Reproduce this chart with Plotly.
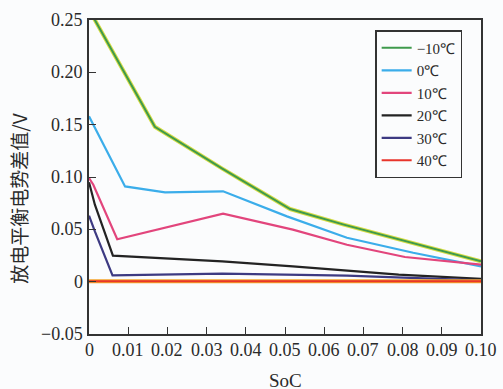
import plotly.graph_objects as go

# SoC sample points and potential differences (V) for each temperature
soc_m10 = [0.0, 0.0168, 0.0340, 0.0513, 0.0650, 0.0793, 0.1000]
v_m10 = [0.260, 0.148, 0.108, 0.0694, 0.0545, 0.0401, 0.0194]

soc_0 = [0.0, 0.0092, 0.0194, 0.0342, 0.0505, 0.0658, 0.0827, 0.1000]
v_0 = [0.158, 0.091, 0.0853, 0.0863, 0.0624, 0.0420, 0.0276, 0.0146]

soc_10 = [0.0, 0.0011, 0.0072, 0.0342, 0.0520, 0.0658, 0.0806, 0.1000]
v_10 = [0.099, 0.0926, 0.0405, 0.0650, 0.0497, 0.0353, 0.0236, 0.0162]

soc_20 = [0.0, 0.0015, 0.0061, 0.0340, 0.0520, 0.0790, 0.1000]
v_20 = [0.095, 0.0735, 0.0248, 0.0194, 0.0146, 0.0067, 0.0026]

soc_30 = [0.0, 0.0015, 0.0060, 0.0340, 0.0658, 0.1000]
v_30 = [0.063, 0.048, 0.0060, 0.0076, 0.0057, 0.0013]

soc_40 = [0.0, 0.1000]
v_40 = [0.0005, 0.0005]

labels = ["\u221210\u2103", "0\u2103", "10\u2103", "20\u2103", "30\u2103", "40\u2103"]

x_ticks = [0, 0.01, 0.02, 0.03, 0.04, 0.05, 0.06, 0.07, 0.08, 0.09, 0.10]
x_tick_text = ["0", "0.01", "0.02", "0.03", "0.04", "0.05", "0.06", "0.07", "0.08", "0.09", "0.10"]
y_ticks = [-0.05, 0, 0.05, 0.10, 0.15, 0.20, 0.25]
y_tick_text = ["\u22120.05", "0", "0.05", "0.10", "0.15", "0.20", "0.25"]

serif = "Liberation Serif"
ink = "#2a2a2a"

fig = go.Figure()

# two-tone lines: a wide under-stroke with a narrower stroke on top
fig.add_trace(go.Scatter(x=soc_m10, y=v_m10, mode="lines", showlegend=False,
                         line=dict(color="#d6dc45", width=4), hoverinfo="skip"))
fig.add_trace(go.Scatter(x=soc_m10, y=v_m10, mode="lines", name=labels[0],
                         line=dict(color="#3f9a4c", width=2)))
fig.add_trace(go.Scatter(x=soc_0, y=v_0, mode="lines", name=labels[1],
                         line=dict(color="#3badea", width=2.2)))
fig.add_trace(go.Scatter(x=soc_10, y=v_10, mode="lines", name=labels[2],
                         line=dict(color="#e2457c", width=2.2)))
fig.add_trace(go.Scatter(x=soc_20, y=v_20, mode="lines", name=labels[3],
                         line=dict(color="#232323", width=2.2)))
fig.add_trace(go.Scatter(x=soc_30, y=v_30, mode="lines", name=labels[4],
                         line=dict(color="#3d3a82", width=2.2)))
fig.add_trace(go.Scatter(x=soc_40, y=v_40, mode="lines", showlegend=False,
                         line=dict(color="#f4a52a", width=4), hoverinfo="skip"))
fig.add_trace(go.Scatter(x=soc_40, y=v_40, mode="lines", name=labels[5],
                         line=dict(color="#e8352b", width=2)))

axis_common = dict(
    showgrid=False, zeroline=False, showline=True, mirror=True,
    linecolor="#333333", linewidth=1.5,
    ticks="inside", ticklen=7, tickwidth=1.3, tickcolor="#333333",
    showticklabels=False,
)

fig.update_xaxes(range=[0, 0.10], tickmode="array", tickvals=x_ticks, **axis_common)
fig.update_yaxes(range=[-0.05, 0.25], tickmode="array", tickvals=y_ticks, **axis_common)

# serif tick labels, written at the axis tick positions
tick_font = dict(family=serif, size=18, color=ink)
for xv, txt in zip(x_ticks, x_tick_text):
    fig.add_annotation(text=txt, x=xv, y=0, xref="x", yref="paper",
                       xanchor="center", yanchor="top", yshift=-4,
                       showarrow=False, font=tick_font)
for yv, txt in zip(y_ticks, y_tick_text):
    fig.add_annotation(text=txt, x=0, y=yv, xref="paper", yref="y",
                       xanchor="right", yanchor="middle", xshift=-4,
                       showarrow=False, font=tick_font)

# axis titles
fig.add_annotation(text="SoC", x=0.5, y=0, xref="paper", yref="paper",
                   xanchor="center", yanchor="middle", yshift=-46,
                   showarrow=False, font=dict(family=serif, size=19, color=ink))
fig.add_annotation(text="放电平衡电势差值/V", textangle=-90, showarrow=False,
                   xref="paper", yref="paper", x=-0.179, y=0.43,
                   xanchor="center", yanchor="middle",
                   font=dict(family="Noto Sans CJK SC", size=19, color=ink))

fig.update_layout(
    width=503, height=389,
    margin=dict(l=89, r=22, t=20, b=55),
    paper_bgcolor="#fbfcfd", plot_bgcolor="#fbfcfd",
    font=dict(family=serif, color=ink),
    legend=dict(x=0.73, y=0.968, xanchor="left", yanchor="top",
                bgcolor="#fbfcfd", bordercolor="#333333", borderwidth=1.5,
                font=dict(family=serif, size=15, color=ink),
                tracegroupgap=0, itemwidth=30),
)

fig.write_html("out.html")
